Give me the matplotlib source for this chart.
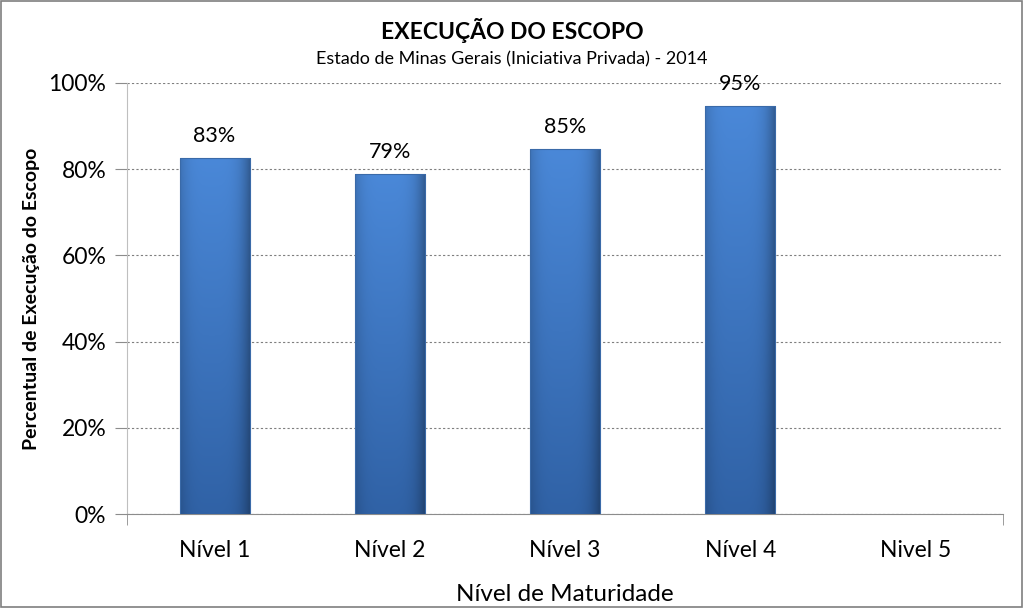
import matplotlib.pyplot as plt
import numpy as np
from matplotlib.patches import Rectangle

plt.rcParams["font.family"] = ["Lato", "DejaVu Sans"]

# data
categories = ["Nível 1", "Nível 2", "Nível 3", "Nível 4", "Nivel 5"]
values = [0.826, 0.788, 0.846, 0.946, None]
labels = ["83%", "79%", "85%", "95%", ""]
yticks = [0, 0.2, 0.4, 0.6, 0.8, 1.0]
ytick_labels = ["0%", "20%", "40%", "60%", "80%", "100%"]

fig = plt.figure(figsize=(10.24, 6.08), dpi=100)
ax = fig.add_axes([0.124, 0.1546, 0.8555, 0.7089])

grey = "#8c8c8c"
x = np.arange(len(categories))
bar_w = 0.4

# horizontal gradient (darker edges) times vertical gradient (lighter top)
hx = np.linspace(0, 1, 64)
edge = 1 - 0.35 * (np.abs(hx - 0.45) / 0.55) ** 4
vy = np.linspace(0, 1, 128)[:, None]
top_col = np.array([0x4a, 0x88, 0xd8]) / 255
bot_col = np.array([0x30, 0x62, 0xa6]) / 255

for xi, v in zip(x, values):
    if v is None:
        continue
    col = bot_col + (top_col - bot_col) * vy
    img = np.clip(col[:, None, :] * edge[None, :, None], 0, 1)
    rect = Rectangle((xi - bar_w / 2, 0), bar_w, v, facecolor="none",
                     edgecolor="#3a6aa8", linewidth=0.8, zorder=4)
    ax.add_patch(rect)
    im = ax.imshow(img, extent=[xi - bar_w / 2, xi + bar_w / 2, 0, v],
                   origin="lower", aspect="auto", zorder=3)
    im.set_clip_path(rect)

for xi, v, lab in zip(x, values, labels):
    if v is None:
        continue
    ax.text(xi, v + 0.028, lab, ha="center", va="bottom", fontsize=15.5)

ax.set_xlim(-0.5, len(categories) - 0.5)
ax.set_ylim(0, 1.0)
ax.set_yticks(yticks)
ax.set_yticklabels(ytick_labels, fontsize=16.5)
ax.set_xticks(x)
ax.set_xticklabels(categories, fontsize=16.5)
ax.set_xticks([-0.5, len(categories) - 0.5], minor=True)
ax.tick_params(axis="x", which="major", length=0, pad=19)
ax.tick_params(axis="x", which="minor", length=8, color=grey, direction="out")
ax.tick_params(axis="y", length=9, color=grey, direction="out", pad=6)

ax.grid(axis="y", linestyle=(0, (2, 2)), color="#7f7f7f", linewidth=0.8, zorder=0)
ax.set_axisbelow(True)
for s in ["top", "right"]:
    ax.spines[s].set_visible(False)
ax.spines["left"].set_color("#bfbfbf")
ax.spines["bottom"].set_color(grey)

ax.set_ylabel("Percentual de Execução do Escopo", fontsize=14, fontweight="bold", labelpad=6)
ax.set_xlabel("Nível de Maturidade", fontsize=17.5, labelpad=16)

fig.text(0.5, 0.95, "EXECUÇÃO DO ESCOPO", ha="center", va="center", fontsize=16.5, fontweight="bold")
fig.text(0.5, 0.903, "Estado de Minas Gerais (Iniciativa Privada) - 2014", ha="center", va="center", fontsize=13)

fig.patches.append(Rectangle((0.001, 0.002), 0.997, 0.996, transform=fig.transFigure,
                             fill=False, edgecolor="#7f7f7f", linewidth=1.2))

fig.savefig("out.png", dpi=100)
